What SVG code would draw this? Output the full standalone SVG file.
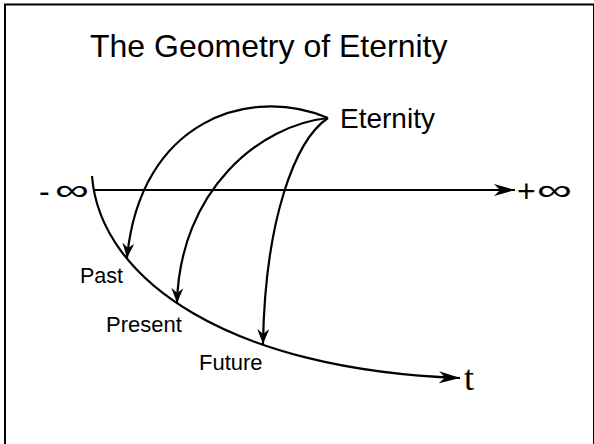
<svg xmlns="http://www.w3.org/2000/svg" width="594" height="444" viewBox="0 0 594 444">
<style>
.txt{font-family:"Liberation Sans",Arial,sans-serif;fill:#000}
.ln{fill:none;stroke:#000;stroke-width:2.2}
</style>
<defs>
<marker id="ah" markerUnits="userSpaceOnUse" markerWidth="18" markerHeight="14" refX="15" refY="6" orient="auto">
<path d="M0,0 L15,6 L0,12 L5,6 z" fill="#000"/>
</marker>
<marker id="ahBig" markerUnits="userSpaceOnUse" markerWidth="24" markerHeight="14" refX="21" refY="6" orient="auto">
<path d="M0,0 L21,6 L0,12 L6,6 z" fill="#000"/>
</marker>
</defs>
<rect x="5" y="4.5" width="589" height="460" fill="#fff" stroke="#000" stroke-width="2"/>
<g id="title"><text class="txt" x="90" y="57" font-size="32">The Geometry of Eternity</text></g>
<g id="eternity"><text class="txt" x="340" y="128" font-size="28">Eternity</text></g>
<g id="neg-inf"><text class="txt" x="39" y="202" font-size="32">-</text><text class="txt" x="55" y="200" font-size="30" textLength="34" lengthAdjust="spacingAndGlyphs">∞</text></g>
<g id="pos-inf"><text class="txt" x="517" y="202" font-size="32">+</text><text class="txt" x="537" y="200" font-size="30" textLength="35" lengthAdjust="spacingAndGlyphs">∞</text></g>
<g id="past"><text class="txt" x="80" y="283" font-size="21.5">Past</text></g>
<g id="present"><text class="txt" x="106" y="332" font-size="22">Present</text></g>
<g id="future"><text class="txt" x="199" y="370" font-size="22">Future</text></g>
<g id="t-label"><text x="464" y="390" font-size="36" font-family="'Liberation Serif','Times New Roman',serif">t</text></g>
<g id="connectors">
<path class="ln" d="M93,190 L515,190" stroke-width="2.6" marker-end="url(#ahBig)"/>
<path class="ln" d="M92,176 C100,280 230,370 460,378" stroke-width="3.2" marker-end="url(#ahBig)"/>
<path class="ln" d="M328,118 C250,85 140,120 127,258" marker-end="url(#ah)"/>
<path class="ln" d="M328,118 C260,125 180,190 177,303" marker-end="url(#ah)"/>
<path class="ln" d="M328,118 C295,140 265,220 263,344" marker-end="url(#ah)"/>
</g>
</svg>
